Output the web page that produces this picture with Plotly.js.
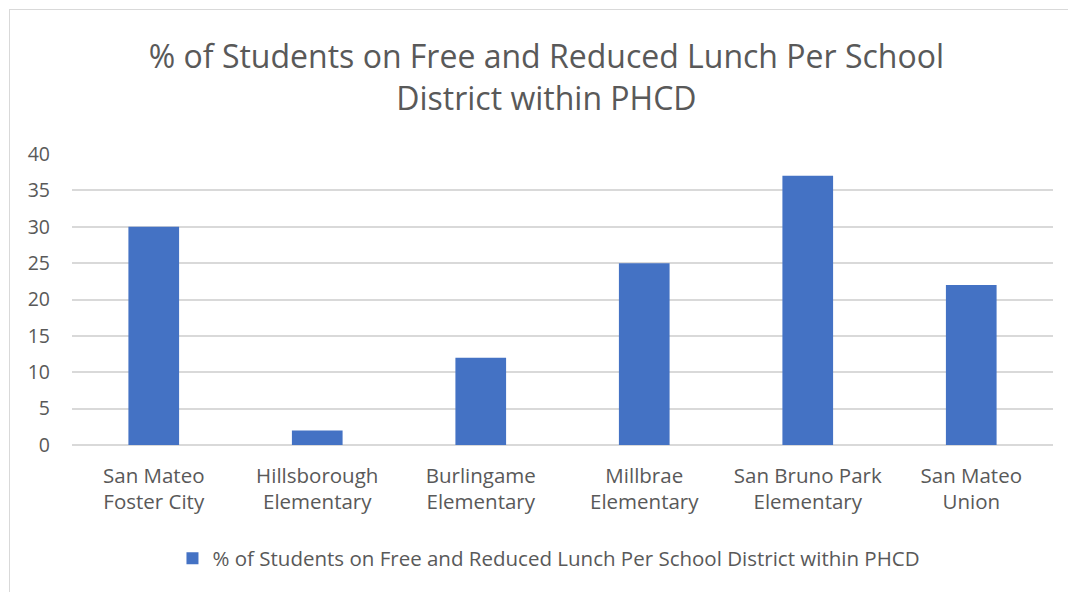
<!DOCTYPE html>
<html>
<head>
<meta charset="utf-8">
<script src="https://cdn.plot.ly/plotly-3.0.1.min.js"></script>
<style>
  html, body { margin: 0; padding: 0; background: #fff; overflow: hidden; }
  #chart {
    position: absolute; left: 9px; top: 9px;
    width: 1058px; height: 582px;
    border-left: 1px solid #d9d9d9; border-top: 1px solid #d9d9d9;
  }
</style>
</head>
<body>
<div id="chart"></div>
<script>
// school districts and their free/reduced lunch share (%)
const DISTRICTS = [
  'San Mateo<br>Foster City',
  'Hillsborough<br>Elementary',
  'Burlingame<br>Elementary',
  'Millbrae<br>Elementary',
  'San Bruno Park<br>Elementary',
  'San Mateo<br>Union'
];
const PCT_LUNCH = [30, 2, 12, 25, 37, 22];
const SERIES_NAME = '% of Students on Free and Reduced Lunch Per School District within PHCD';
const Y_TICKS = [0, 5, 10, 15, 20, 25, 30, 35, 40];

const FONT = 'Open Sans, Lato, sans-serif';
const GREY = '#595959';

Plotly.newPlot('chart', [{
  type: 'bar',
  x: DISTRICTS,
  y: PCT_LUNCH,
  name: SERIES_NAME,
  marker: { color: '#4472c4' },
  hoverinfo: 'x+y'
}], {
  width: 1058, height: 582,
  margin: { l: 62, r: 15, t: 144, b: 147 },
  paper_bgcolor: '#fff', plot_bgcolor: '#fff',
  font: { family: FONT, color: GREY },
  bargap: 0.69,
  title: {
    text: '% of Students on Free and Reduced Lunch Per School<br>District within PHCD',
    font: { size: 32, color: GREY, family: FONT },
    xref: 'container', x: 0.507, xanchor: 'center',
    yref: 'container', y: 0.9, yanchor: 'middle'
  },
  xaxis: {
    showgrid: false, zeroline: false, showline: false,
    tickfont: { size: 20.5, color: GREY },
    ticklabelstandoff: 16
  },
  yaxis: {
    range: [0, 40], tickvals: Y_TICKS,
    gridcolor: '#d9d9d9', gridwidth: 1.5,
    zeroline: true, zerolinecolor: '#d9d9d9', zerolinewidth: 1.5,
    showline: false,
    tickfont: { size: 19.5, color: GREY },
    ticklabelstandoff: 21
  },
  showlegend: true,
  legend: {
    orientation: 'h', x: 0.87, xanchor: 'right',
    y: -0.39, yanchor: 'middle',
    font: { size: 20.5, color: GREY }
  }
}, { displayModeBar: false });
</script>
</body>
</html>
